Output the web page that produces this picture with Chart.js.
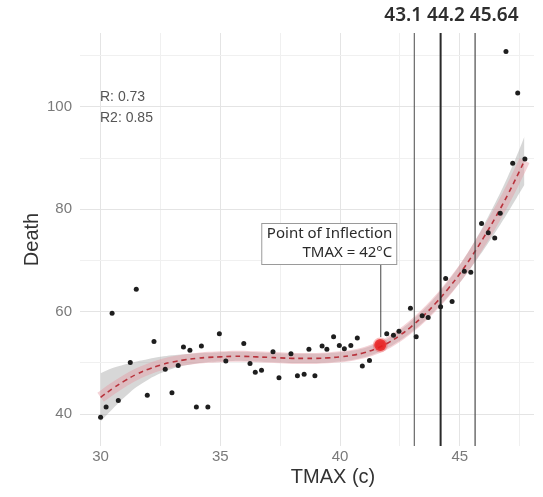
<!DOCTYPE html>
<html>
<head>
<meta charset="utf-8">
<script src="https://cdn.jsdelivr.net/npm/chart.js@4"></script>
<style>
  html, body { margin: 0; padding: 0; background: #fff; }
  #wrap { width: 543px; height: 497px; }
</style>
</head>
<body>
<div id="wrap"><canvas id="chart" width="543" height="497"></canvas></div>
<script>
// observed days: max temperature vs deaths
var tmaxObs = [30.0, 30.23, 30.48, 30.74, 31.24, 31.49, 31.95, 32.23, 32.7, 32.98,
	33.24, 33.46, 33.73, 34.0, 34.21, 34.48, 34.96, 35.23, 35.98, 36.24,
	36.46, 36.72, 37.2, 37.45, 37.95, 38.22, 38.5, 38.7, 38.95, 39.25,
	39.45, 39.73, 39.97, 40.18, 40.45, 40.72, 40.93, 41.23, 41.95, 42.23,
	42.46, 42.94, 43.18, 43.43, 43.68, 44.2, 44.41, 44.68, 45.19, 45.46,
	45.91, 46.19, 46.46, 46.69, 46.93, 47.21, 47.42, 47.72];
var deathObs = [39.4, 41.4, 59.7, 42.7, 50.1, 64.4, 43.7, 54.2, 48.8, 44.2,
	49.5, 53.1, 52.5, 41.4, 53.3, 41.4, 55.7, 50.4, 53.8, 49.9,
	48.2, 48.6, 52.2, 47.1, 51.8, 47.5, 47.8, 52.7, 47.5, 53.3,
	52.7, 55.1, 53.4, 52.8, 53.4, 54.9, 49.4, 50.5, 55.7, 55.4,
	56.2, 60.7, 55.1, 59.2, 58.9, 61.0, 66.5, 62.0, 67.9, 67.7,
	77.2, 75.4, 74.4, 79.2, 110.8, 89.0, 102.7, 89.8];

// smoothed fit with confidence band
var fitX = [30.0, 30.5, 31.0, 31.5, 32.0, 32.5, 33.0, 33.5, 34.0, 34.5,
	35.0, 35.5, 36.0, 36.5, 37.0, 37.5, 38.0, 38.5, 39.0, 39.5,
	40.0, 40.5, 41.0, 41.5, 42.0, 42.5, 43.0, 43.5, 44.0, 44.5,
	45.0, 45.5, 46.0, 46.5, 47.0, 47.5, 47.7];
var fitY = [43.3, 45.0, 46.5, 47.8, 48.8, 49.6, 50.2, 50.6, 50.9, 51.1,
	51.2, 51.3, 51.3, 51.2, 51.1, 51.0, 50.9, 50.9, 50.9, 51.0,
	51.2, 51.5, 52.0, 52.8, 53.9, 55.4, 57.2, 59.3, 61.7, 64.4,
	67.4, 70.8, 74.5, 78.5, 82.8, 87.5, 89.5];
var fitLow = [38.6, 41.0, 43.3, 45.3, 46.8, 48.0, 48.9, 49.5, 49.9, 50.2,
	50.3, 50.4, 50.4, 50.3, 50.2, 50.1, 50.0, 50.0, 50.0, 50.1,
	50.3, 50.6, 51.1, 51.9, 53.0, 54.4, 56.1, 58.1, 60.4, 62.9,
	65.7, 68.8, 72.1, 75.6, 79.3, 83.2, 84.8];
var fitHigh = [48.0, 49.0, 49.7, 50.3, 50.8, 51.2, 51.5, 51.7, 51.9, 52.0,
	52.1, 52.2, 52.2, 52.1, 52.0, 51.9, 51.8, 51.8, 51.8, 51.9,
	52.1, 52.4, 52.9, 53.7, 54.8, 56.4, 58.3, 60.5, 63.0, 65.9,
	69.1, 72.8, 76.9, 81.4, 86.3, 91.8, 94.2];

var inflection = { x: 41.68, y: 53.5 };
var thresholds = [43.1, 44.2, 45.64];
var thresholdWidths = [1, 2, 1.2];

var xTickLabels = [30, 35, 40, 45];
var yTickLabels = [40, 60, 80, 100];
var xMin = 29.14, xMax = 48.1;
var yMin = 33.8, yMax = 114.4;

var statLines = ['R: 0.73', 'R2: 0.85'];
var inflectionLines = ['Point of Inflection', 'TMAX = 42\u00B0C'];

function toPoints(xs, ys) {
	var pts = new Array();
	xs.forEach(function(x, i) {
		pts.push({ x: x, y: ys[i] });
	});
	return pts;
}

var datasets = new Array();

datasets.push({
	type: 'scatter',
	data: toPoints(tmaxObs, deathObs),
	backgroundColor: '#1e1e1e',
	borderWidth: 0,
	pointRadius: 2.5
});

datasets.push({
	type: 'scatter',
	data: [inflection],
	backgroundColor: 'rgba(232,30,30,0.9)',
	borderColor: 'rgba(240,70,70,0.35)',
	borderWidth: 3,
	pointRadius: 6
});

thresholds.forEach(function(t, i) {
	datasets.push({
		type: 'line',
		data: [{ x: t, y: yMin }, { x: t, y: yMax }],
		borderColor: i === 1 ? '#2a2a2a' : '#4a4a4a',
		borderWidth: thresholdWidths[i],
		pointRadius: 0,
		fill: false
	});
});

// dashed fit line
datasets.push({
	type: 'line',
	data: toPoints(fitX, fitY),
	borderColor: 'rgba(180,35,45,0.9)',
	borderWidth: 1.6,
	borderDash: [5, 4],
	pointRadius: 0,
	tension: 0.4,
	fill: false
});

// pink halo round the fit
datasets.push({
	type: 'line',
	data: toPoints(fitX, fitY),
	borderColor: 'rgba(228,150,160,0.42)',
	borderWidth: 11,
	pointRadius: 0,
	tension: 0.4,
	fill: false
});

datasets.push({
	type: 'line',
	data: toPoints(fitX, fitLow),
	borderColor: 'rgba(0,0,0,0)',
	borderWidth: 0,
	pointRadius: 0,
	tension: 0.4,
	fill: false
});

datasets.push({
	type: 'line',
	data: toPoints(fitX, fitHigh),
	borderColor: 'rgba(0,0,0,0)',
	borderWidth: 0,
	pointRadius: 0,
	tension: 0.4,
	fill: { target: '-1' },
	backgroundColor: 'rgba(150,150,150,0.38)'
});

var textPlugin = {
	id: 'texts',
	afterDatasetsDraw: function(chart) {
		var ctx = chart.ctx;
		var xs = chart.scales.x;
		var ys = chart.scales.y;
		ctx.save();

		// R / R2
		ctx.fillStyle = '#555';
		ctx.font = "14px 'Liberation Sans', Arial, sans-serif";
		ctx.textAlign = 'left';
		ctx.textBaseline = 'middle';
		ctx.fillText(statLines[0], 100, 97);
		ctx.fillText(statLines[1], 100, 118);

		// threshold labels
		ctx.fillStyle = '#2d2d2d';
		ctx.font = "600 19px 'Noto Sans', sans-serif";
		ctx.fillText(thresholds.join(' '), xs.getPixelForValue(thresholds[0]) - 30, 16);

		// inflection box
		var px = xs.getPixelForValue(inflection.x);
		var py = ys.getPixelForValue(inflection.y);
		var boxRight = px + 16, boxLeft = boxRight - 135;
		var boxTop = 223, boxBottom = 264;
		ctx.strokeStyle = '#444';
		ctx.lineWidth = 1;
		ctx.beginPath();
		ctx.moveTo(px + 0.5, boxBottom);
		ctx.lineTo(px + 0.5, py - 8);
		ctx.stroke();
		ctx.fillStyle = '#fff';
		ctx.fillRect(boxLeft, boxTop, boxRight - boxLeft, boxBottom - boxTop);
		ctx.strokeStyle = '#9a9a9a';
		ctx.strokeRect(boxLeft + 0.5, boxTop + 0.5, boxRight - boxLeft, boxBottom - boxTop);
		ctx.fillStyle = '#2a2a2a';
		ctx.font = "15px 'Noto Sans', sans-serif";
		ctx.textAlign = 'right';
		ctx.fillText(inflectionLines[0], boxRight - 4, boxTop + 11);
		ctx.fillText(inflectionLines[1], boxRight - 4, boxTop + 30);

		// x title
		ctx.fillStyle = '#333';
		ctx.font = "20px 'Liberation Sans', Arial, sans-serif";
		ctx.textAlign = 'center';
		ctx.fillText('TMAX (c)', 333, 477);
		ctx.restore();
	}
};

var config = {
	type: 'scatter',
	data: { datasets: datasets },
	options: {
		responsive: false,
		animation: false,
		layout: { padding: { top: 33, right: 0, bottom: 0, left: 0 } },
		plugins: {
			legend: { display: false },
			tooltip: { enabled: false }
		},
		scales: {
			x: {
				type: 'linear',
				min: xMin,
				max: xMax,
				border: { display: false },
				grid: {
					drawTicks: false,
					color: function(c) {
						return xTickLabels.indexOf(c.tick.value) >= 0 ? '#e4e4e4' : '#f0f0f0';
					}
				},
				ticks: {
					stepSize: 2.5,
					includeBounds: false,
					autoSkip: false,
					maxRotation: 0,
					padding: 2,
					color: '#7a7a7a',
					font: { family: "'Liberation Sans', Arial, sans-serif", size: 15 },
					callback: function(v) {
						return xTickLabels.indexOf(v) >= 0 ? String(v) : '';
					}
				},
				afterFit: function(scale) { scale.height = 51; }
			},
			y: {
				type: 'linear',
				min: yMin,
				max: yMax,
				border: { display: false },
				grid: {
					drawTicks: false,
					color: function(c) {
						return yTickLabels.indexOf(c.tick.value) >= 0 ? '#e4e4e4' : '#f0f0f0';
					}
				},
				ticks: {
					stepSize: 10,
					includeBounds: false,
					autoSkip: false,
					padding: 8,
					color: '#7a7a7a',
					font: { family: "'Liberation Sans', Arial, sans-serif", size: 15 },
					callback: function(v) {
						return yTickLabels.indexOf(v) >= 0 ? String(v) : '';
					}
				},
				title: {
					display: true,
					text: 'Death',
					color: '#333',
					font: { family: "'Liberation Sans', Arial, sans-serif", size: 20 },
					padding: { top: 20, bottom: 0 }
				},
				afterFit: function(scale) { scale.width = 80; }
			}
		}
	},
	plugins: [textPlugin]
};

var myChart = new Chart(document.getElementById('chart'), config);
</script>
</body>
</html>
